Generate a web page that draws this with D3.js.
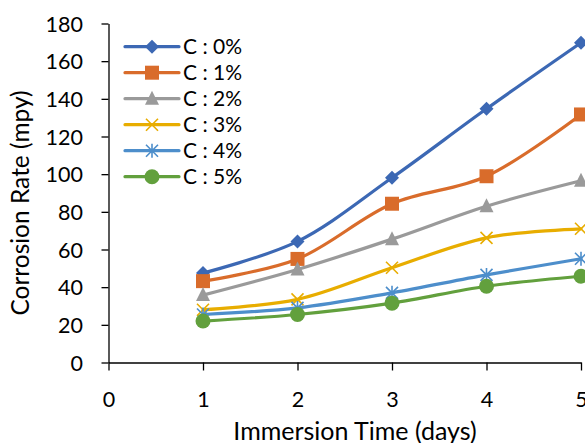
<!DOCTYPE html>
<html><head><meta charset="utf-8">
<script src="https://cdn.jsdelivr.net/npm/d3@7"></script>
<style>body{margin:0;background:#fff}svg{display:block}text{font-family:Lato,"Open Sans",sans-serif;fill:#000}</style>
</head><body><svg id="c" width="585" height="443"></svg>
<script>
const days = [1, 2, 3, 4, 5];
const seriesNames = ["C : 0%", "C : 1%", "C : 2%", "C : 3%", "C : 4%", "C : 5%"];
const c0 = [47.5, 64.3, 98.1, 134.7, 169.8];
const c1 = [43.2, 55.0, 84.3, 98.9, 131.7];
const c2 = [35.8, 49.4, 65.5, 83.0, 96.5];
const c3 = [28.0, 33.5, 50.3, 66.2, 71.0];
const c4 = [25.5, 29.0, 37.0, 46.5, 55.1];
const c5 = [22.0, 25.5, 31.5, 40.5, 45.8];
const yTicks = [0, 20, 40, 60, 80, 100, 120, 140, 160, 180];
const xTicks = [0, 1, 2, 3, 4, 5];
const colors = ["#3c68b4", "#d96c2b", "#9a9a9a", "#e8ad00", "#4d8ecb", "#62a03d"];
const markers = ["diamond", "square", "triangle", "x", "star", "circle"];
const allSeries = [c0, c1, c2, c3, c4, c5];

const svg = d3.select("#c");
const x = d3.scaleLinear().domain([0, 5]).range([108.5, 581]);
const y = d3.scaleLinear().domain([0, 180]).range([362.5, 23.5]);

const gy = svg.append("g").attr("transform", "translate(108.5,0)")
  .call(d3.axisLeft(y).tickValues(yTicks).tickFormat(d3.format("d")).tickSize(7).tickSizeOuter(0));
const gx = svg.append("g").attr("transform", "translate(0,362.5)")
  .call(d3.axisBottom(x).tickValues(xTicks).tickFormat(d3.format("d")).tickSize(8).tickSizeOuter(0));
[gx, gy].forEach(g => {
  g.select(".domain").attr("stroke", "#000").attr("stroke-width", 1.3);
  g.selectAll(".tick line").attr("stroke", "#000").attr("stroke-width", 1.3);
  g.selectAll(".tick text").style("font-size", "21.5px").attr("fill", "#000");
});
gy.selectAll(".tick text").attr("x", -25.5).attr("dy", "0.36em");
gx.selectAll(".tick text").attr("y", 44.5).attr("dy", 0);

svg.append("text").attr("x", 355).attr("y", 440).attr("text-anchor", "middle")
  .style("font-size", "25px").text("Immersion Time (days)");
svg.append("text").attr("transform", "translate(20,203) rotate(-90)").attr("text-anchor", "middle")
  .attr("dy", "0.35em").style("font-size", "24.5px").text("Corrosion Rate (mpy)");

function drawMarker(g, type, color, cx, cy) {
  const s = g.append("g").attr("transform", `translate(${cx},${cy})`);
  if (type === "diamond") s.append("path").attr("d", "M0,-7L7,0L0,7L-7,0Z").attr("fill", color);
  else if (type === "square") s.append("rect").attr("x", -7).attr("y", -7).attr("width", 14).attr("height", 14).attr("fill", color);
  else if (type === "triangle") s.append("path").attr("d", "M0,-8L7,6L-7,6Z").attr("fill", color);
  else if (type === "x") s.append("path").attr("d", "M-6,-6L6,6M-6,6L6,-6").attr("stroke", color).attr("stroke-width", 1.6).attr("fill", "none");
  else if (type === "star") s.append("path").attr("d", "M-6,-6L6,6M-6,6L6,-6M0,-7L0,7").attr("stroke", color).attr("stroke-width", 1.6).attr("fill", "none");
  else if (type === "circle") s.append("circle").attr("r", 7.5).attr("fill", color);
}

const line = d3.line().x((d, i) => x(days[i])).y(d => y(d)).curve(d3.curveCatmullRom.alpha(0.5));
const plot = svg.append("g");
allSeries.forEach((vals, k) => {
  plot.append("path").attr("d", line(vals)).attr("fill", "none")
    .attr("stroke", colors[k]).attr("stroke-width", 3.2).attr("stroke-linecap", "round");
  vals.forEach((v, i) => drawMarker(plot, markers[k], colors[k], x(days[i]), y(v)));
});

const leg = svg.append("g");
seriesNames.forEach((name, k) => {
  const ly = 46.7 + k * 26;
  leg.append("line").attr("x1", 125).attr("x2", 179).attr("y1", ly).attr("y2", ly)
    .attr("stroke", colors[k]).attr("stroke-width", 3.2).attr("stroke-linecap", "round");
  drawMarker(leg, markers[k], colors[k], 152, ly);
  leg.append("text").attr("x", 183).attr("y", ly).attr("dy", "0.36em").style("font-size", "21px").text(name);
});
</script></body></html>
